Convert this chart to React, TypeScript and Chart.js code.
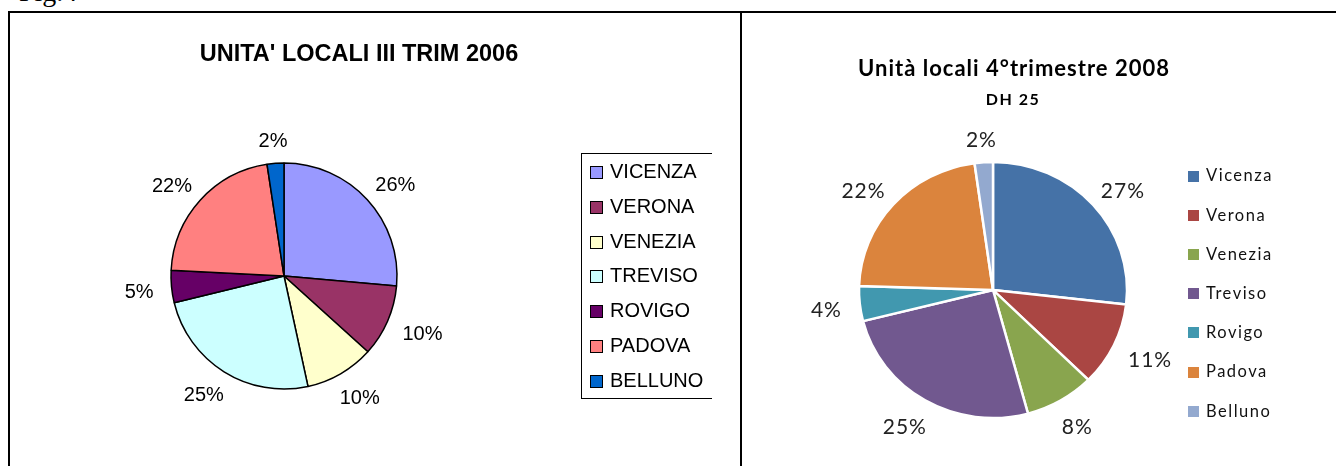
import React, { useEffect, useRef } from 'react';
import { Chart, registerables } from 'chart.js';

Chart.register(...registerables);

// ---- Data: left chart (III trimestre 2006) ----
const provinces2006 = ['VICENZA', 'VERONA', 'VENEZIA', 'TREVISO', 'ROVIGO', 'PADOVA', 'BELLUNO'];
const shares2006 = [26.4, 10.3, 9.9, 24.6, 4.6, 21.8, 2.4];
const colors2006 = ['#9999FF', '#993366', '#FFFFCC', '#CCFFFF', '#660066', '#FF8080', '#0066CC'];
const title2006 = "UNITA' LOCALI III TRIM 2006";

// ---- Data: right chart (4° trimestre 2008) ----
const provinces2008 = ['Vicenza', 'Verona', 'Venezia', 'Treviso', 'Rovigo', 'Padova', 'Belluno'];
const shares2008 = [26.8, 10.6, 8.4, 25.3, 4.4, 22.3, 2.2];
const colors2008 = ['#4572A7', '#AA4643', '#89A54E', '#71588F', '#4198AF', '#DB843D', '#93A9CF'];
const title2008 = 'Unità locali 4°trimestre 2008';
const subtitle2008 = 'DH 25';

const figLabel = 'Fig.4';

type LabelCfg = { font: string; color: string; gap: number; textHeight: number; scaleY: number; shiftY: number; spacing: number };

function makeEllipse(scaleY: number) {
  return {
    id: 'ellipse',
    beforeDatasetsDraw(chart: any) {
      const a = chart.getDatasetMeta(0).data[0];
      const ctx = chart.ctx;
      ctx.save();
      if (!a) return;
      ctx.translate(a.x, a.y);
      ctx.scale(1, scaleY);
      ctx.translate(-a.x, -a.y);
    },
    afterDatasetsDraw(chart: any) {
      chart.ctx.restore();
    },
  };
}

function makePctLabels(cfg: LabelCfg) {
  return {
    id: 'pctLabels',
    afterDraw(chart: any) {
      const ctx = chart.ctx;
      const ds = chart.data.datasets[0];
      const total = (ds.data as number[]).reduce((s, v) => s + v, 0);
      const meta = chart.getDatasetMeta(0);
      ctx.save();
      ctx.font = cfg.font;
      ctx.fillStyle = cfg.color;
      ctx.textAlign = 'center';
      ctx.textBaseline = 'middle';
      if (cfg.spacing) (ctx as any).letterSpacing = cfg.spacing + 'px';
      meta.data.forEach((arc: any, i: number) => {
        const p = arc.getProps(['x', 'y', 'startAngle', 'endAngle', 'outerRadius'], true);
        const mid = (p.startAngle + p.endAngle) / 2;
        const dx = Math.cos(mid);
        const dy = Math.sin(mid);
        const text = Math.round((ds.data[i] / total) * 100) + '%';
        const w = ctx.measureText(text).width;
        const rx = p.outerRadius + cfg.gap;
        const ry = p.outerRadius * cfg.scaleY + cfg.gap;
        const cx = p.x + dx * rx + (dx * w) / 2;
        const cy = p.y + dy * ry + (dy * cfg.textHeight) / 2 + cfg.shiftY;
        ctx.fillText(text, cx, cy);
      });
      ctx.restore();
    },
  };
}

type LegendCfg = {
  boxX: number; boxSize: number; textX: number; y0: number; step: number;
  font: string; color: string; boxBorder: boolean; spacing: number;
  frame?: { left: number; top: number; right: number; bottom: number };
};

function makeLegend(cfg: LegendCfg) {
  return {
    id: 'boxLegend',
    afterDraw(chart: any) {
      const ctx = chart.ctx;
      const labels = chart.data.labels as string[];
      const colors = chart.data.datasets[0].backgroundColor as string[];
      ctx.save();
      if (cfg.frame) {
        const f = cfg.frame;
        ctx.strokeStyle = '#000';
        ctx.lineWidth = 1;
        ctx.strokeRect(f.left, f.top, f.right - f.left, f.bottom - f.top);
      }
      ctx.font = cfg.font;
      ctx.textAlign = 'left';
      ctx.textBaseline = 'middle';
      if (cfg.spacing) (ctx as any).letterSpacing = cfg.spacing + 'px';
      labels.forEach((lab, i) => {
        const cy = cfg.y0 + i * cfg.step;
        const top = Math.round(cy - cfg.boxSize / 2);
        ctx.fillStyle = colors[i];
        ctx.fillRect(cfg.boxX, top, cfg.boxSize, cfg.boxSize);
        if (cfg.boxBorder) {
          ctx.strokeStyle = '#000';
          ctx.lineWidth = 1;
          ctx.strokeRect(cfg.boxX + 0.5, top + 0.5, cfg.boxSize - 1, cfg.boxSize - 1);
        }
        ctx.fillStyle = cfg.color;
        ctx.fillText(lab, cfg.textX, cy);
      });
      ctx.restore();
    },
  };
}

type TextItem = { text: string; x: number; y: number; font: string; color: string; spacing?: number };

function makeTexts(items: TextItem[]) {
  return {
    id: 'texts',
    afterDraw(chart: any) {
      const ctx = chart.ctx;
      items.forEach((t) => {
        ctx.save();
        ctx.font = t.font;
        ctx.fillStyle = t.color;
        ctx.textAlign = 'center';
        ctx.textBaseline = 'middle';
        if (t.spacing) (ctx as any).letterSpacing = t.spacing + 'px';
        ctx.fillText(t.text, t.x, t.y);
        ctx.restore();
      });
    },
  };
}

const ARIAL = '"Liberation Sans", Arial, sans-serif';
const LATO = 'Lato, "Open Sans", sans-serif';

export default function App() {
  const leftRef = useRef<HTMLCanvasElement>(null);
  const rightRef = useRef<HTMLCanvasElement>(null);

  useEffect(() => {
    const left = new Chart(leftRef.current as HTMLCanvasElement, {
      type: 'pie',
      data: {
        labels: provinces2006,
        datasets: [
          {
            data: shares2006,
            backgroundColor: colors2006,
            borderColor: '#000000',
            borderWidth: 1.5,
          },
        ],
      },
      options: {
        responsive: false,
        animation: false,
        events: [],
        radius: 113,
        layout: { padding: { left: 0, right: 154, top: 54, bottom: 0 } },
        plugins: {
          legend: { display: false },
          title: { display: false },
          tooltip: { enabled: false },
        },
      } as any,
      plugins: [
        makePctLabels({ font: `20px ${ARIAL}`, color: '#000', gap: 18, textHeight: 14, scaleY: 1, shiftY: 3, spacing: 0 }),
        makeLegend({
          boxX: 580, boxSize: 13, textX: 600, y0: 159.5, step: 34.8,
          font: `20px ${ARIAL}`, color: '#000', boxBorder: true, spacing: 0,
          frame: { left: 571.5, top: 140.5, right: 800, bottom: 385.5 },
        }),
        makeTexts([{ text: title2006, x: 349, y: 42, font: `bold 23.5px ${ARIAL}`, color: '#000' }]),
      ],
    });

    const right = new Chart(rightRef.current as HTMLCanvasElement, {
      type: 'pie',
      data: {
        labels: provinces2008,
        datasets: [
          {
            data: shares2008,
            backgroundColor: colors2008,
            borderColor: '#FFFFFF',
            borderWidth: 2.5,
          },
        ],
      },
      options: {
        responsive: false,
        animation: false,
        events: [],
        radius: 134,
        layout: { padding: { left: 0, right: 92, top: 94, bottom: 0 } },
        plugins: {
          legend: { display: false },
          title: { display: false },
          tooltip: { enabled: false },
        },
      } as any,
      plugins: [
        makeEllipse(0.955),
        makePctLabels({ font: `21px ${LATO}`, color: '#222', gap: 18, textHeight: 16, scaleY: 0.955, shiftY: 4, spacing: 1 }),
        makeLegend({
          boxX: 446, boxSize: 11, textX: 464, y0: 163, step: 39.2,
          font: `16.5px ${LATO}`, color: '#111', boxBorder: false, spacing: 1.5,
        }),
        makeTexts([
          { text: title2008, x: 272, y: 56, font: `bold 22px ${LATO}`, color: '#000', spacing: 1 },
          { text: subtitle2008, x: 271, y: 87, font: `bold 16px ${LATO}`, color: '#000', spacing: 1.5 },
        ]),
      ],
    });

    return () => {
      left.destroy();
      right.destroy();
    };
  }, []);

  return (
    <div
      style={{
        position: 'absolute', left: 0, top: 0, width: 1336, height: 466,
        overflow: 'hidden', background: '#fff',
      }}
    >
      <div
        style={{
          position: 'absolute', left: 19, top: -22,
          font: '28px "Liberation Serif", "Times New Roman", serif',
          lineHeight: '28px', color: '#000', whiteSpace: 'nowrap',
        }}
      >
        {figLabel}
      </div>
      <div style={{ position: 'absolute', left: 8, top: 11, width: 1340, height: 2, background: '#000' }} />
      <div style={{ position: 'absolute', left: 8, top: 11, width: 2, height: 470, background: '#000' }} />
      <div style={{ position: 'absolute', left: 740, top: 11, width: 2, height: 470, background: '#000' }} />
      <canvas ref={leftRef} width={702} height={472} style={{ position: 'absolute', left: 10, top: 13 }} />
      <canvas ref={rightRef} width={594} height={460} style={{ position: 'absolute', left: 742, top: 13 }} />
    </div>
  );
}
